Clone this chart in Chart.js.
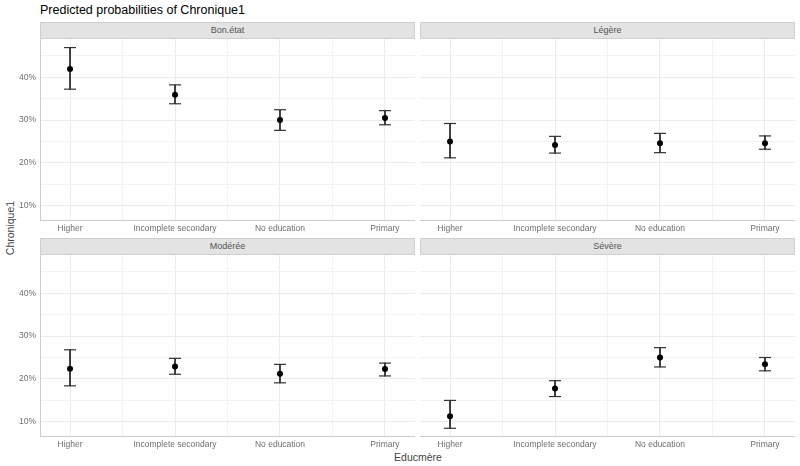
<!DOCTYPE html>
<html>
<head>
<meta charset="utf-8">
<script src="https://cdn.jsdelivr.net/npm/chart.js@4"></script>
<style>
  body { margin: 0; background: #fff; font-family: "Liberation Sans", Arial, sans-serif; }
  #wrap { position: relative; width: 800px; height: 466px; overflow: hidden; }
  .strip { position: absolute; height: 17px; background: #e3e3e3; border: 1px solid #cfcfcf; box-sizing: border-box;
           font-size: 9px; color: #555; text-align: center; line-height: 15px; }
  canvas { position: absolute; }
  #title { position: absolute; left: 40px; top: 3px; font-size: 12.5px; color: #000; }
  #ytitle { position: absolute; left: 10px; top: 228px; font-size: 10.5px; color: #444;
            transform: translate(-50%, -50%) rotate(-90deg); white-space: nowrap; }
  #xtitle { position: absolute; left: 418px; top: 451px; font-size: 10.5px; color: #444; transform: translateX(-50%); }
</style>
</head>
<body>
<div id="wrap">
  <div id="title">Predicted probabilities of Chronique1</div>
  <div id="ytitle">Chronique1</div>
  <div id="xtitle">Educmère</div>
</div>
<script>
// categories and facets
const categories = ["Higher", "Incomplete secondary", "No education", "Primary"];
const facets = ["Bon.état", "Légère", "Modérée", "Sévère"];

// predicted probabilities (%) per facet, same order as categories
const estBon = [41.9, 35.9, 30.0, 30.5];
const lowBon = [37.2, 33.8, 27.6, 28.9];
const highBon = [46.9, 38.2, 32.4, 32.2];

const estLegere = [25.0, 24.2, 24.6, 24.6];
const lowLegere = [21.2, 22.3, 22.4, 23.2];
const highLegere = [29.2, 26.2, 26.9, 26.3];

const estModeree = [22.4, 22.9, 21.2, 22.3];
const lowModeree = [18.4, 21.1, 19.1, 20.7];
const highModeree = [26.8, 24.8, 23.4, 23.7];

const estSevere = [11.3, 17.8, 25.0, 23.4];
const lowSevere = [8.5, 15.9, 22.8, 21.9];
const highSevere = [15.0, 19.6, 27.3, 25.0];

const yTicks = [10, 20, 30, 40];

const panels = [
	{ name: facets[0], est: estBon, low: lowBon, high: highBon, left: 0, top: 39, showY: true },
	{ name: facets[1], est: estLegere, low: lowLegere, high: highLegere, left: 420, top: 39, showY: false },
	{ name: facets[2], est: estModeree, low: lowModeree, high: highModeree, left: 0, top: 255, showY: true },
	{ name: facets[3], est: estSevere, low: lowSevere, high: highSevere, left: 420, top: 255, showY: false },
];

const wrap = document.getElementById("wrap");

function toPoints(values) {
	return values.map((v, i) => ({ x: i + 1, y: v }));
}

// no extra room for half tick labels, panels must line up exactly
function noPadding(axis) {
	axis.paddingTop = 0;
	axis.paddingBottom = 0;
	axis.paddingLeft = 0;
	axis.paddingRight = 0;
}

panels.forEach(function (p) {
	var yAxisW = p.showY ? 40 : 0;

	// strip label
	var strip = document.createElement("div");
	strip.className = "strip";
	strip.style.left = (p.left + yAxisW) + "px";
	strip.style.top = (p.top - 17) + "px";
	strip.style.width = "375px";
	strip.textContent = p.name;
	wrap.appendChild(strip);

	var canvas = document.createElement("canvas");
	canvas.width = 375 + yAxisW;
	canvas.height = 199;
	canvas.style.left = p.left + "px";
	canvas.style.top = p.top + "px";
	wrap.appendChild(canvas);

	var bars = p.low.map((v, i) => ({ x: i + 1, y: [v, p.high[i]] }));

	new Chart(canvas.getContext("2d"), {
		type: "scatter",
		data: {
			datasets: [
				{
					type: "bar",
					data: bars,
					backgroundColor: "#333",
					borderWidth: 0,
					barThickness: 1.2,
					order: 3,
				},
				{
					data: toPoints(p.low),
					pointStyle: "line",
					pointRadius: 6,
					borderColor: "#333",
					pointBorderWidth: 1.2,
					order: 2,
				},
				{
					data: toPoints(p.high),
					pointStyle: "line",
					pointRadius: 6,
					borderColor: "#333",
					pointBorderWidth: 1.2,
					order: 2,
				},
				{
					data: toPoints(p.est),
					pointRadius: 3,
					backgroundColor: "#000",
					borderColor: "#000",
					borderWidth: 0,
					order: 1,
				},
			],
		},
		options: {
			responsive: false,
			animation: false,
			events: [],
			layout: { padding: 0, autoPadding: false },
			plugins: { legend: { display: false }, tooltip: { enabled: false } },
			scales: {
				x: {
					type: "linear",
					min: 0.714,
					max: 4.286,
					offset: false,
					afterFit: function (axis) { axis.height = 18; noPadding(axis); },
					border: { display: true, color: "#cccccc", width: 1 },
					grid: {
						offset: false,
						drawTicks: false,
						color: (ctx) => (ctx.tick && Number.isInteger(ctx.tick.value) ? "#ebebeb" : "#f2f2f2"),
					},
					ticks: {
						stepSize: 0.5,
						includeBounds: false,
						autoSkip: false,
						maxRotation: 0,
						padding: 4,
						color: "#6e6e6e",
						font: { family: "Liberation Sans", size: 8.5 },
						callback: (v) => (Number.isInteger(v) ? categories[v - 1] : ""),
					},
				},
				y: {
					min: 6.7,
					max: 48.9,
					afterFit: function (axis) { axis.width = yAxisW; noPadding(axis); },
					border: { display: p.showY, color: "#cccccc", width: 1 },
					grid: {
						drawTicks: false,
						color: (ctx) => (ctx.tick && yTicks.includes(ctx.tick.value) ? "#ebebeb" : "#f2f2f2"),
					},
					ticks: {
						display: p.showY,
						stepSize: 5,
						includeBounds: false,
						padding: 4,
						color: "#6e6e6e",
						font: { family: "Liberation Sans", size: 8.5 },
						callback: (v) => (yTicks.includes(v) ? v + "%" : ""),
					},
				},
			},
		},
	});
});
</script>
</body>
</html>
